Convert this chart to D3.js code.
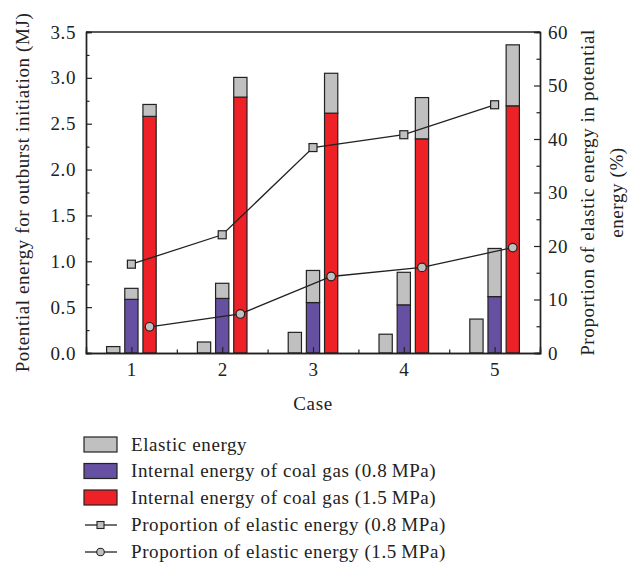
<!DOCTYPE html>
<html><head><meta charset="utf-8">
<script src="https://cdn.jsdelivr.net/npm/d3@7"></script>
<style>body{margin:0;background:#fff}svg{display:block}text{font-family:"Liberation Serif","DejaVu Serif",serif;fill:#222;letter-spacing:0.6px}</style>
</head><body>
<svg id="c" width="635" height="566"></svg>
<script>
const cases = [1, 2, 3, 4, 5];
const elasticAlone = [0.07, 0.12, 0.225, 0.205, 0.37];
const internal08 = [0.585, 0.595, 0.55, 0.525, 0.615];
const elastic08 = [0.12, 0.165, 0.35, 0.355, 0.525];
const internal15 = [2.58, 2.79, 2.615, 2.335, 2.695];
const elastic15 = [0.13, 0.215, 0.435, 0.45, 0.665];
const prop08 = [16.6, 22.1, 38.4, 40.8, 46.4];
const prop15 = [4.9, 7.3, 14.3, 16.0, 19.7];
const leftTicks = [0, 0.5, 1.0, 1.5, 2.0, 2.5, 3.0, 3.5];
const rightTicks = [0, 10, 20, 30, 40, 50, 60];
const legendLabels = ["Elastic energy", "Internal energy of coal gas (0.8\u2009MPa)", "Internal energy of coal gas (1.5\u2009MPa)", "Proportion of elastic energy (0.8\u2009MPa)", "Proportion of elastic energy (1.5\u2009MPa)"];

const C = {gray: "#c0c0c0", purple: "#6650a2", red: "#ee2226", stroke: "#222"};
const svg = d3.select("#c");
const L = 86, R = 540, T = 32, B = 353;
const x = d3.scaleLinear().domain([0.5, 5.5]).range([L, R]);
const y = d3.scaleLinear().domain([0, 3.5]).range([B, T]);
const y2 = d3.scaleLinear().domain([0, 60]).range([B, T]);
const bw = x(0.646) - x(0.5);
const fs = "19px";

const g = svg.append("g");
function bar(cx, y0, y1, fill) {
  g.append("rect").attr("x", cx - bw / 2).attr("y", y(y1)).attr("width", bw)
    .attr("height", y(y0) - y(y1)).attr("fill", fill).attr("stroke", C.stroke).attr("stroke-width", 1.2);
}
cases.forEach((c, i) => {
  bar(x(c - 0.2), 0, elasticAlone[i], C.gray);
  bar(x(c), 0, internal08[i], C.purple);
  bar(x(c), internal08[i], internal08[i] + elastic08[i], C.gray);
  bar(x(c + 0.2), 0, internal15[i], C.red);
  bar(x(c + 0.2), internal15[i], internal15[i] + elastic15[i], C.gray);
});

// axes
function styleAxis(sel) {
  sel.select(".domain").attr("stroke", C.stroke).attr("stroke-width", 1.4);
  sel.selectAll(".tick line").attr("stroke", C.stroke).attr("stroke-width", 1.2);
  sel.selectAll("text").attr("font-size", fs).attr("font-family", '"Liberation Serif",serif').attr("fill", "#222");
}
const minorL = d3.range(0.25, 3.5, 0.5);
const minorR = d3.range(5, 60, 10);
const minorX = [1.5, 2.5, 3.5, 4.5];

svg.append("g").attr("transform", `translate(${L},0)`)
  .call(d3.axisLeft(y).tickValues(minorL).tickSize(-3.5).tickFormat("")).call(styleAxis);
svg.append("g").attr("transform", `translate(${L},0)`)
  .call(d3.axisLeft(y).tickValues(leftTicks).tickSize(-6).tickPadding(10).tickFormat(d3.format(".1f"))).call(styleAxis);

svg.append("g").attr("transform", `translate(${R},0)`)
  .call(d3.axisRight(y2).tickValues(minorR).tickSize(-3.5).tickFormat("")).call(styleAxis);
svg.append("g").attr("transform", `translate(${R},0)`)
  .call(d3.axisRight(y2).tickValues(rightTicks).tickSize(-6).tickPadding(8).tickFormat(d3.format("d"))).call(styleAxis);

svg.append("g").attr("transform", `translate(0,${B})`)
  .call(d3.axisBottom(x).tickValues(minorX).tickSize(-3.5).tickFormat("")).call(styleAxis);
svg.append("g").attr("transform", `translate(0,${B})`)
  .call(d3.axisBottom(x).tickValues(cases).tickSize(-6).tickPadding(10).tickFormat(d3.format("d"))).call(styleAxis);

svg.append("line").attr("x1", L).attr("x2", R).attr("y1", T).attr("y2", T)
  .attr("stroke", C.stroke).attr("stroke-width", 1.4);

// lines
const line08 = d3.line().x((d, i) => x(cases[i])).y(d => y2(d));
const line15 = d3.line().x((d, i) => x(cases[i] + 0.2)).y(d => y2(d));
svg.append("path").attr("d", line08(prop08)).attr("fill", "none").attr("stroke", C.stroke).attr("stroke-width", 1.3);
svg.append("path").attr("d", line15(prop15)).attr("fill", "none").attr("stroke", C.stroke).attr("stroke-width", 1.3);
prop08.forEach((d, i) => {
  svg.append("rect").attr("x", x(cases[i]) - 4).attr("y", y2(d) - 4).attr("width", 8).attr("height", 8)
    .attr("fill", C.gray).attr("stroke", C.stroke).attr("stroke-width", 1.2);
});
prop15.forEach((d, i) => {
  svg.append("circle").attr("cx", x(cases[i] + 0.2)).attr("cy", y2(d)).attr("r", 4.3)
    .attr("fill", C.gray).attr("stroke", C.stroke).attr("stroke-width", 1.2);
});

// titles
svg.append("text").attr("x", (L + R) / 2).attr("y", 410).attr("text-anchor", "middle").attr("font-size", fs).text("Case");
svg.append("text").attr("transform", `translate(29,${(T + B) / 2}) rotate(-90)`).attr("text-anchor", "middle")
  .attr("font-size", fs).text("Potential energy for outburst initiation (MJ)");
svg.append("text").attr("transform", `translate(594,${(T + B) / 2}) rotate(-90)`).attr("text-anchor", "middle")
  .attr("font-size", fs).text("Proportion of elastic energy in potential");
svg.append("text").attr("transform", `translate(623,${(T + B) / 2}) rotate(-90)`).attr("text-anchor", "middle")
  .attr("font-size", fs).text("energy (%)");

// legend
const ly = [444.5, 471, 497.5, 525, 552];
const fills = [C.gray, C.purple, C.red];
legendLabels.forEach((t, i) => {
  const cy = ly[i];
  if (i < 3) {
    svg.append("rect").attr("x", 84).attr("y", cy - 7.5).attr("width", 33).attr("height", 15)
      .attr("fill", fills[i]).attr("stroke", C.stroke).attr("stroke-width", 1.2);
  } else {
    svg.append("line").attr("x1", 85).attr("x2", 117).attr("y1", cy).attr("y2", cy).attr("stroke", C.stroke).attr("stroke-width", 1.3);
    if (i === 3) svg.append("rect").attr("x", 97).attr("y", cy - 3.5).attr("width", 7).attr("height", 7)
      .attr("fill", C.gray).attr("stroke", C.stroke).attr("stroke-width", 1.1);
    else svg.append("circle").attr("cx", 100.5).attr("cy", cy).attr("r", 3.8)
      .attr("fill", C.gray).attr("stroke", C.stroke).attr("stroke-width", 1.1);
  }
  svg.append("text").attr("x", 131).attr("y", cy + 6).attr("font-size", fs).text(t);
});
</script>
</body></html>
